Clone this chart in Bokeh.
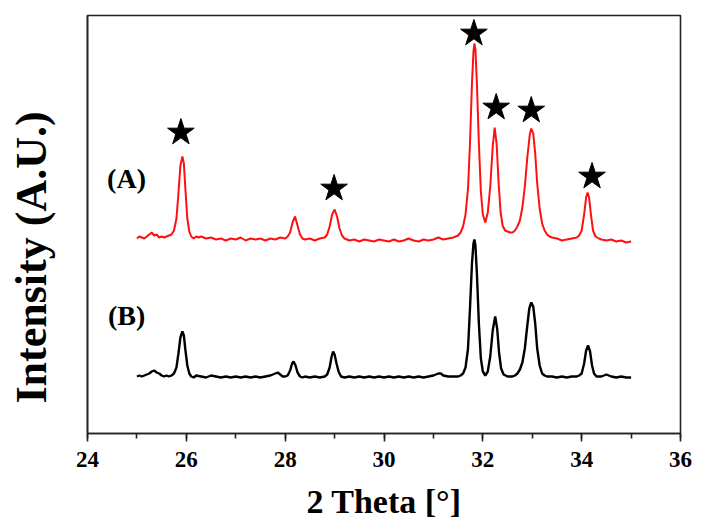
from bokeh.plotting import figure
from bokeh.models import Range1d, SingleIntervalTicker, Label
from bokeh.embed import file_html
from bokeh.resources import INLINE

# ---- data (2-theta in degrees, intensity in arbitrary units) ----
theta_A = [25.00,25.05,25.10,25.15,25.20,25.25,25.30,25.35,25.40,25.45,25.50,25.55,25.60,25.65,25.70,25.75,
           25.80,25.84,25.88,25.92,25.95,25.98,26.02,26.06,26.10,26.15,26.20,26.25,26.30,26.40,26.50,26.60,
           26.70,26.80,26.90,27.00,27.10,27.20,27.30,27.40,27.50,27.60,27.70,27.80,27.90,28.00,28.05,28.10,
           28.15,28.20,28.25,28.30,28.35,28.40,28.50,28.60,28.70,28.80,28.85,28.90,28.95,29.00,29.05,29.10,
           29.15,29.20,29.30,29.40,29.50,29.60,29.70,29.80,29.90,30.00,30.10,30.20,30.30,30.40,30.50,30.60,
           30.70,30.80,30.90,31.00,31.10,31.20,31.30,31.40,31.45,31.50,31.55,31.60,31.65,31.70,31.74,31.78,
           31.81,31.83,31.85,31.88,31.92,31.96,32.00,32.05,32.10,32.15,32.20,32.24,32.28,32.32,32.36,32.40,
           32.45,32.50,32.55,32.60,32.65,32.70,32.75,32.80,32.85,32.90,32.95,32.98,33.02,33.06,33.10,33.15,
           33.20,33.25,33.30,33.35,33.40,33.50,33.60,33.70,33.80,33.90,33.95,34.00,34.05,34.09,34.12,34.15,
           34.19,34.23,34.28,34.35,34.40,34.50,34.60,34.70,34.80,34.90,35.00]
intensity_A = [195,197,196,195,197,199,201,198,199,196,197,196,197,198,199,203,
               215,240,268,277,270,245,215,202,197,195,197,196,197,195,196,194,
               195,193,195,194,196,193,195,194,195,193,195,194,196,195,197,201,
               211,217,208,199,195,194,195,193,195,196,199,207,219,224,217,205,
               198,195,193,194,192,194,193,192,194,193,192,194,192,193,195,193,
               192,194,193,194,196,194,195,196,197,198,201,207,219,245,290,350,
               382,390,384,350,290,242,219,211,221,247,287,306,289,250,221,208,
               203,202,201,201,203,207,213,226,247,276,299,305,300,280,250,225,
               210,203,199,197,196,195,193,194,195,196,198,203,219,236,241,236,
               218,203,197,195,194,193,194,192,193,191,192]

theta_B = [25.00,25.05,25.10,25.15,25.20,25.25,25.30,25.35,25.40,25.45,25.50,25.55,25.60,25.65,25.70,25.75,
           25.80,25.84,25.88,25.92,25.95,25.98,26.02,26.06,26.10,26.15,26.20,26.30,26.40,26.50,26.60,26.70,
           26.80,26.90,27.00,27.10,27.20,27.30,27.40,27.50,27.60,27.70,27.80,27.85,27.90,27.95,28.00,28.05,
           28.10,28.14,28.17,28.21,28.25,28.30,28.35,28.40,28.50,28.60,28.70,28.80,28.85,28.90,28.94,28.97,
           29.00,29.04,29.08,29.13,29.20,29.30,29.40,29.50,29.60,29.70,29.80,29.90,30.00,30.10,30.20,30.30,
           30.40,30.50,30.60,30.70,30.80,30.90,31.00,31.05,31.10,31.15,31.20,31.30,31.40,31.50,31.55,31.60,
           31.65,31.70,31.74,31.78,31.81,31.83,31.85,31.88,31.92,31.96,32.00,32.05,32.10,32.15,32.20,32.25,
           32.29,32.33,32.37,32.42,32.50,32.60,32.65,32.70,32.75,32.80,32.85,32.90,32.94,32.98,33.02,33.06,
           33.10,33.15,33.20,33.25,33.30,33.40,33.50,33.60,33.70,33.80,33.90,33.95,34.00,34.05,34.09,34.13,
           34.17,34.21,34.25,34.30,34.40,34.50,34.60,34.70,34.80,34.90,35.00]
intensity_B = [57,58,57,58,59,60,62,63,61,60,58,57,58,57,58,60,
               66,80,96,102,98,84,68,60,57,56,58,57,56,58,57,56,
               57,56,57,56,57,56,57,56,57,58,60,61,59,57,57,58,
               63,70,72,68,61,57,56,57,56,57,56,57,59,66,77,82,
               79,70,62,57,56,57,56,57,56,57,56,57,56,57,56,57,
               56,57,56,57,56,57,58,59,60,60,58,57,57,57,58,60,
               66,85,125,170,190,194,188,160,110,75,62,58,62,77,103,117,
               105,80,65,59,57,57,58,60,64,71,85,108,125,131,127,110,
               85,68,60,58,57,57,56,57,56,57,57,58,60,70,83,88,
               82,68,60,57,57,59,57,56,57,56,56]

star_theta = [25.89, 28.99, 31.82, 32.27, 32.98, 34.21]
star_intensity = [301, 245, 400, 326, 323, 257]

sample_names = ["(A)", "(B)"]
sample_label_y = [255, 118]

x_ticks_interval = 2

assert len(theta_A) == len(intensity_A)
assert len(theta_B) == len(intensity_B)

SERIF = "Liberation Serif"
NBSP = "\u00a0"

p = figure(frame_width=593, frame_height=418,
           x_range=Range1d(24, 36), y_range=Range1d(0, 418),
           output_backend="svg", toolbar_location=None,
           min_border_left=87, min_border_top=15, min_border_right=12, min_border_bottom=6)

p.grid.visible = False
p.outline_line_color = "#222222"
p.outline_line_width = 1.6
p.outline_line_alpha = 1.0
p.background_fill_color = "white"
p.border_fill_color = "white"

xa = p.xaxis[0]
xa.ticker = SingleIntervalTicker(interval=x_ticks_interval, num_minor_ticks=2)
xa.axis_line_color = "#222222"
xa.axis_line_width = 1.6
xa.major_tick_line_color = "#222222"
xa.minor_tick_line_color = "#222222"
xa.major_tick_line_width = 1.6
xa.minor_tick_line_width = 1.6
xa.major_tick_in = 0
xa.major_tick_out = 8
xa.minor_tick_in = 0
xa.minor_tick_out = 5
xa.major_label_text_font = SERIF
xa.major_label_text_font_style = "bold"
xa.major_label_text_font_size = "23px"
xa.major_label_text_color = "black"
xa.major_label_standoff = 10
xa.axis_label = "2 Theta [°]"
xa.axis_label_text_font = SERIF
xa.axis_label_text_font_style = "bold"
xa.axis_label_text_font_size = "34px"
xa.axis_label_text_color = "black"
xa.axis_label_standoff = 13

ya = p.yaxis[0]
ya.major_tick_line_color = None
ya.minor_tick_line_color = None
ya.major_label_text_font_size = "0px"
ya.major_label_text_color = None
ya.axis_line_color = "#222222"
ya.axis_line_width = 1.6
ya.axis_label = "Intensity (A.U.)" + NBSP * 6
ya.axis_label_text_font = SERIF
ya.axis_label_text_font_style = "bold"
ya.axis_label_text_font_size = "44px"
ya.axis_label_text_color = "black"
ya.axis_label_standoff = 26

p.line(theta_A, intensity_A, line_color="#ff1010", line_width=2.0)
p.line(theta_B, intensity_B, line_color="black", line_width=2.4)

p.scatter(star_theta, star_intensity, marker="star", size=28,
          fill_color="black", line_color="black")

for name, yy in zip(sample_names, sample_label_y):
    p.add_layout(Label(x=24.79, y=yy, text=name, text_align="center", text_baseline="middle",
                       text_font=SERIF, text_font_style="bold", text_font_size="28px",
                       text_color="black"))

open("out.html", "w").write(file_html(p, INLINE))
